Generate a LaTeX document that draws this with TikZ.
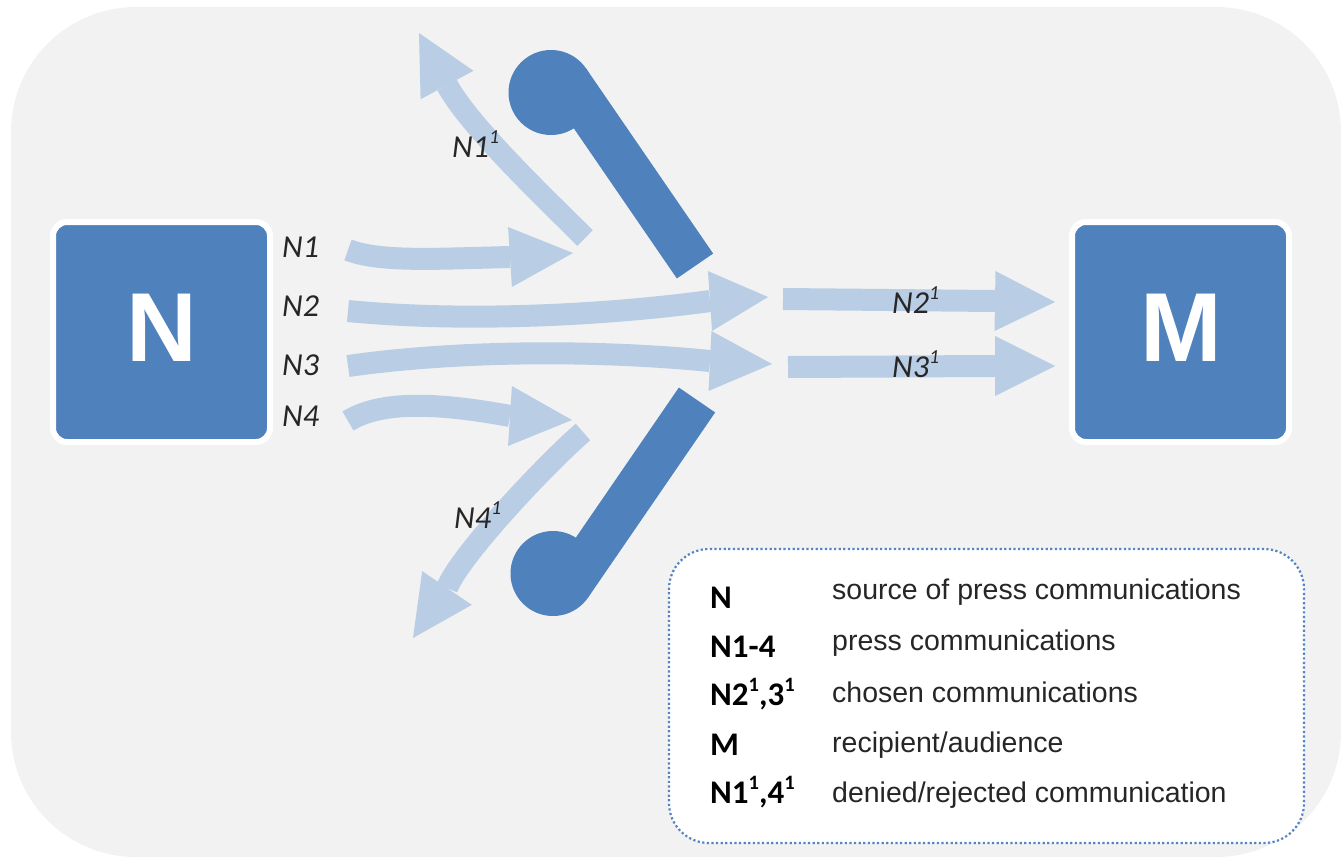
\documentclass[tikz,border=0pt]{standalone}
\usepackage{fontspec}
\setmainfont{Carlito}
\newfontfamily\boxfont{Liberation Sans}
\newfontfamily\legfont{Liberation Sans}
\usetikzlibrary{calc}

\definecolor{bgGray}{RGB}{242,242,242}
\definecolor{boxBlue}{RGB}{79,129,189}
\definecolor{flowBlue}{RGB}{185,205,229}
\definecolor{dotBlue}{RGB}{84,132,196}

% small raised "1"
\newcommand\supone{\raisebox{0.42em}{\scalebox{0.62}{1}}}
% filled arrow head from a base point to a tip point
\newcommand\flowhead[2]{%
  \fill[flowBlue] ($(#1)!30pt!90:(#2)$) -- (#2) -- ($(#1)!30pt!-90:(#2)$) -- cycle;}

\tikzset{
  shaft/.style={draw=flowBlue, line width=22pt},
  bigbox/.style={fill=boxBlue, draw=white, line width=6pt, rounded corners=14pt,
    minimum width=217pt, minimum height=220pt},
  bigletter/.style={text=white, inner sep=0pt,
    font=\boxfont\bfseries\fontsize{98}{98}\selectfont},
  flowlabel/.style={anchor=base west, inner sep=0pt, text=black!85,
    font=\itshape\fontsize{32}{32}\selectfont},
  gatebar/.style={draw=boxBlue, line width=44pt},
  legkey/.style={anchor=base west, inner sep=0pt, font=\bfseries\fontsize{33}{33}\selectfont},
  legtext/.style={anchor=base west, inner sep=0pt, text=black!85, font=\legfont\fontsize{28.5}{28.5}\selectfont},
}

\begin{document}
\begin{tikzpicture}[x=1pt, y=-1pt]
\useasboundingbox (0,0) rectangle (1341,857);

% panel background
\fill[bgGray] (11,7) [rounded corners=125pt] -- (1341,7) -- (1341,857) -- (11,857) -- cycle;

% source and recipient
\node[bigbox] (N) at (161.5,332) {};
\node[bigbox] (M) at (1180.5,332) {};
\node[bigletter] (Ntxt) at (162,328) {N};
\node[bigletter] (Mtxt) at (1181,328) {M};

% incoming flows N1 - N4
\coordinate (n1s) at (348,250); \coordinate (n1b) at (510,257); \coordinate (n1t) at (573,253);
\coordinate (n2s) at (348,311); \coordinate (n2b) at (710,301); \coordinate (n2t) at (768,297);
\coordinate (n3s) at (348,366); \coordinate (n3b) at (710,361); \coordinate (n3t) at (772,364);
\coordinate (n4s) at (348,421); \coordinate (n4b) at (510,416); \coordinate (n4t) at (572,420);
% rejected flows
\coordinate (r1s) at (585,238); \coordinate (r1b) at (447,85);  \coordinate (r1t) at (419,33);
\coordinate (r4s) at (583,432); \coordinate (r4b) at (447,588); \coordinate (r4t) at (413,638);
% chosen flows
\coordinate (c2s) at (783,299); \coordinate (c2b) at (995,301); \coordinate (c2t) at (1055,302);
\coordinate (c3s) at (788,367); \coordinate (c3b) at (995,366); \coordinate (c3t) at (1055,366);

\draw[shaft] (r1s) .. controls (545,198) and (470,127) .. (r1b); \flowhead{r1b}{r1t}
\draw[shaft] (r4s) .. controls (548,462) and (460,555) .. (r4b); \flowhead{r4b}{r4t}

\draw[shaft] (n1s) .. controls (380,262) and (430,259) .. (n1b); \flowhead{n1b}{n1t}
\draw[shaft] (n2s) .. controls (460,322) and (600,316) .. (n2b); \flowhead{n2b}{n2t}
\draw[shaft] (n3s) .. controls (460,350) and (600,350) .. (n3b); \flowhead{n3b}{n3t}
\draw[shaft] (n4s) .. controls (385,398) and (450,405) .. (n4b); \flowhead{n4b}{n4t}

\draw[shaft] (c2s) -- (c2b); \flowhead{c2b}{c2t}
\draw[shaft] (c3s) -- (c3b); \flowhead{c3b}{c3t}

% gates
\coordinate (g1c) at (551,92.5); \coordinate (g1a) at (568,81); \coordinate (g1e) at (695,266);
\coordinate (g2c) at (553,573.5); \coordinate (g2a) at (570,585); \coordinate (g2e) at (697,400);
\draw[gatebar] (g1a) -- (g1e); \fill[boxBlue] (g1c) circle[radius=42.5pt];
\draw[gatebar] (g2a) -- (g2e); \fill[boxBlue] (g2c) circle[radius=42.5pt];

% flow labels
\node[flowlabel] (l1) at (282,257) {N1};
\node[flowlabel] (l2) at (282,316) {N2};
\node[flowlabel] (l3) at (282,375) {N3};
\node[flowlabel] (l4) at (282,426) {N4};
\node[flowlabel] (lr1) at (452,157) {N1\supone};
\node[flowlabel] (lr4) at (454,528) {N4\supone};
\node[flowlabel] (lc2) at (892,313) {N2\supone};
\node[flowlabel] (lc3) at (892,377) {N3\supone};

% legend
\node[draw=dotBlue, fill=white, line width=2.2pt, dash pattern=on 2.2pt off 2.4pt,
      rounded corners=40pt, minimum width=635pt, minimum height=294pt] (legend) at (986.5,696) {};
\node[legkey] (k1) at (710,608) {N};
\node[legkey] (k2) at (710,657) {N1-4};
\node[legkey] (k3) at (710,705) {N2\supone,3\supone};
\node[legkey] (k4) at (710,755) {M};
\node[legkey] (k5) at (710,803) {N1\supone,4\supone};
\node[legtext] (t1) at (832,599) {source of press communications};
\node[legtext] (t2) at (832,650) {press communications};
\node[legtext] (t3) at (832,702) {chosen communications};
\node[legtext] (t4) at (832,752) {recipient/audience};
\node[legtext] (t5) at (832,802) {denied/rejected communication};
\end{tikzpicture}
\end{document}
